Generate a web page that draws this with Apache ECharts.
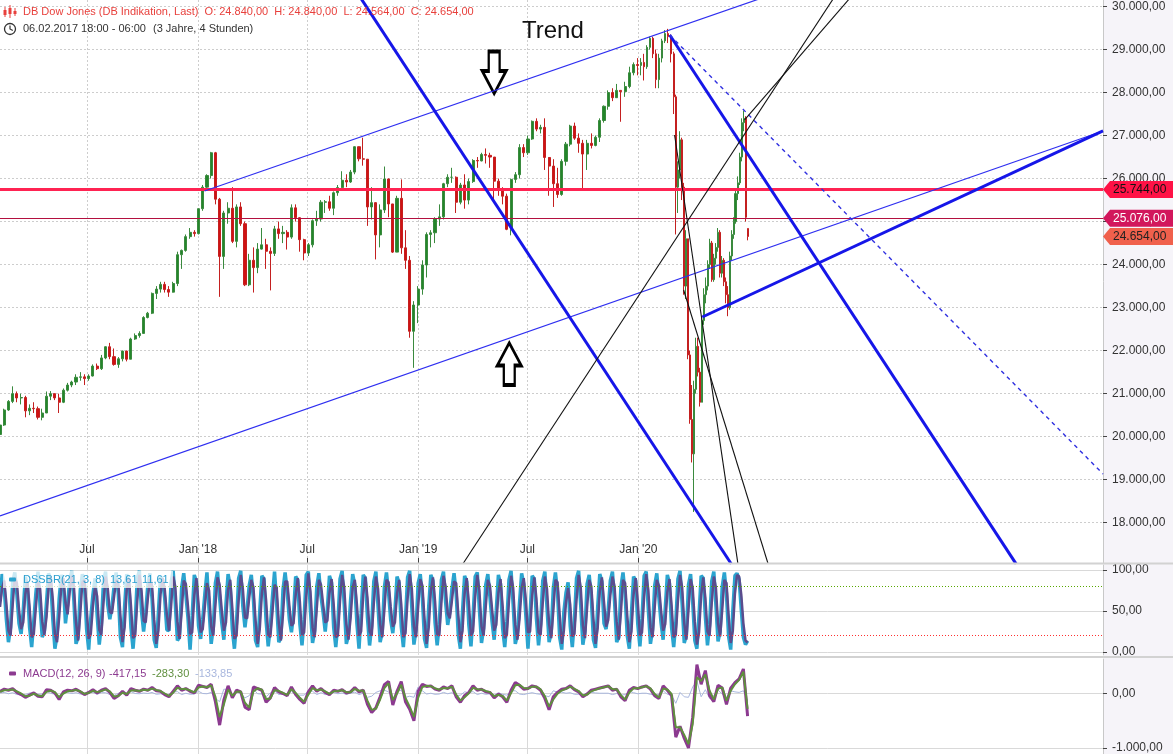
<!DOCTYPE html>
<html><head><meta charset="utf-8">
<script src="https://cdn.jsdelivr.net/npm/echarts@6/dist/echarts.min.js"></script>
<style>html,body{margin:0;padding:0;background:#fff}#c{width:1173px;height:754px}</style>
</head><body><div id="c"></div>
<script>
const DAY = 86400000;
const T = s => { const p = s.split('-').map(Number); return Date.UTC(p[0], p[1] - 1, p[2]); };
const FONT = '"Liberation Sans", Arial, sans-serif';

// ---------- axis ticks ----------
const xMinDate = '2017-02-07';
const xMaxDate = '2022-02-09';
const xTickDates = ['2017-07-01', '2018-01-01', '2018-07-01', '2019-01-01', '2019-07-01', '2020-01-01'];
const xTickLabels = ['Jul', "Jan '18", 'Jul', "Jan '19", 'Jul', "Jan '20"];
const priceTicks = [18000, 19000, 20000, 21000, 22000, 23000, 24000, 25000, 26000, 27000, 28000, 29000, 30000];
const dssTicks = [0, 50, 100];
const macdTicks = [-1000, 0];

// ---------- price: weekly candles [open, close, low, high] ----------
const weeklyStart = '2017-02-07';
const weeklyOHLC = [
[20050,20270,20000,20300],[20270,20620,20250,20650],[20620,20820,20600,20850],[20820,21000,20780,21170],[21000,20900,20800,21050],
[20900,20910,20750,21000],[20910,20600,20450,20950],[20600,20660,20500,20750],[20660,20650,20550,20800],[20650,20450,20400,20700],
[20450,20550,20380,20650],[20550,20940,20550,21050],[20940,21000,20850,21060],[21000,20900,20850,21000],[20900,20800,20550,21000],
[20800,21080,20780,21120],[21080,21200,21050,21250],[21200,21270,21150,21300],[21270,21380,21200,21450],[21380,21390,21300,21500],
[21390,21350,21200,21450],[21350,21410,21300,21450],[21410,21640,21400,21680],[21640,21580,21550,21700],[21580,21830,21550,21900],
[21830,22090,21800,22100],[22090,21860,21800,22180],[21860,21680,21650,22050],[21680,21810,21600,21850],[21810,21990,21750,22000],
[21990,21800,21750,22000],[21800,22270,21800,22300],[22270,22350,22250,22400],[22350,22400,22300,22450],[22400,22770,22400,22800],
[22770,22870,22750,22900],[22870,23330,22850,23350],[23330,23430,23200,23500],[23430,23540,23350,23600],[23540,23420,23350,23600],
[23420,23360,23250,23500],[23360,23560,23350,23600],[23560,24230,23500,24300],[24230,24330,23900,24350],[24330,24650,24300,24700],
[24650,24750,24600,24850],[24750,24720,24650,24800],[24720,25300,24700,25300],[25300,25800,25250,25850],[25800,26070,25750,26100],
[26070,26600,26000,26620],[26600,25520,25400,26620],[25520,24190,23250,25550],[24190,25200,23900,25250],[25200,25310,24950,25450],
[25310,24540,24500,25800],[24540,25340,24400,25400],[25340,24950,24900,25450],[24950,23530,23500,25000],[23530,24100,23500,24250],
[24100,23930,23350,24400],[23930,24360,23800,24500],[24360,24460,24350,24850],[24460,24310,23900,24600],[24310,24260,23400,24400],
[24260,24830,24200,24900],[24830,24720,24600,25000],[24720,24750,24500,24900],[24750,24640,24350,24800],[24640,25320,24600,25400],
[25320,25090,25000,25400],[25090,24580,24300,25100],[24580,24270,24100,24600],[24270,24460,24200,24500],[24460,25020,24400,25050],
[25020,25060,24900,25250],[25060,25450,25000,25500],[25450,25460,25200,25500],[25460,25310,25250,25600],[25310,25670,25150,25700],
[25670,25790,25600,25850],[25790,25960,25750,26170],[25960,25920,25800,26100],[25920,26150,25900,26200],[26150,26740,26100,26750],
[26740,26460,26400,26700],[26460,26450,26300,26950],[26450,25340,24900,26450],[25340,25440,25050,25800],[25440,24690,24120,25300],
[24690,25270,24400,25400],[25270,25990,25200,26280],[25990,25410,25100,26000],[25410,24290,24270,25400],[24290,25540,24300,25600],
[25540,24390,24250,25980],[24390,24100,23900,24800],[24100,22450,22300,24200],[22450,23060,21600,23150],[23060,23430,22640,23500],
[23430,23990,23300,24100],[23990,24700,23700,24750],[24700,24740,24400,24800],[24740,25060,24500,25100],[25060,25110,24900,25400],
[25110,25880,25050,25900],[25880,26030,25800,26100],[26030,26030,25900,26250],[26030,25450,25200,26050],[25450,25850,25400,25900],
[25850,25500,25300,26100],[25500,25930,25400,26000],[25930,26420,25900,26450],[26420,26410,26250,26500],[26410,26560,26400,26600],
[26560,26540,26350,26700],[26540,26500,26250,26600],[26500,25940,25500,26500],[25940,25760,25600,26000],[25760,25590,25400,25800],
[25590,24820,24800,25650],[24820,25980,24680,26000],[25980,26090,25900,26150],[26090,26720,26000,26800],[26720,26600,26500,26800],
[26600,26920,26550,27000],[26920,27330,26900,27350],[27330,27150,27100,27400],[27150,27190,27050,27250],[27190,26490,26200,27400],
[26490,26290,25600,26500],[26290,25880,25340,26450],[25880,25630,25550,26250],[25630,26400,25600,26450],[26400,26800,26300,26850],
[26800,27220,26750,27250],[27220,26940,26900,27300],[26940,26820,26600,27050],[26820,26570,25740,26900],[26570,26820,26200,26900],
[26820,26770,26700,27050],[26770,26960,26750,27000],[26960,27350,26850,27400],[27350,27680,27300,27700],[27680,28000,27600,28050],
[28000,27880,27800,28100],[27880,28050,27900,28200],[28050,28020,27320,28050],[28020,28140,27900,28250],[28140,28460,28100,28600],
[28460,28650,28400,28700],[28650,28630,28400,28800]
];

// ---------- price 2020 (denser) ----------
const dates2020 = ['2020-01-05','2020-01-10','2020-01-15','2020-01-20','2020-01-25','2020-01-30','2020-02-04','2020-02-09','2020-02-14','2020-02-19','2020-02-24','2020-02-29',
'2020-03-03','2020-03-06','2020-03-10','2020-03-13','2020-03-16','2020-03-20','2020-03-23','2020-03-26','2020-03-30',
'2020-04-02','2020-04-05','2020-04-09','2020-04-12','2020-04-15','2020-04-18','2020-04-22','2020-04-25','2020-04-28',
'2020-05-02','2020-05-05','2020-05-08','2020-05-12','2020-05-15','2020-05-18','2020-05-22','2020-05-25','2020-05-28',
'2020-06-01','2020-06-04','2020-06-07','2020-06-10','2020-06-14','2020-06-17','2020-06-20','2020-06-24','2020-06-27','2020-06-30'];
const ohlc2020 = [
[28630,28700,28400,28800],[28700,28600,28280,28900],[28600,29050,28550,29100],[29050,29260,29000,29300],[29260,28900,28800,29300],
[28900,28300,28100,29000],[28300,28800,28100,28900],[28800,29200,28700,29250],[29200,29370,29150,29450],[29370,29300,29150,29480],
[29300,28900,28700,29350],[28900,27900,27500,28950],[27900,25800,24700,27950],[25800,26200,25200,26400],[26200,26900,26000,27100],
[26900,25800,25500,26950],[25800,23500,23300,25900],[23500,24600,23200,24800],[24600,21900,21800,24600],[21900,20400,20300,22000],
[20400,19600,19400,21200],[19600,21100,18250,21300],[21100,22100,21000,22300],[22100,21500,21400,22300],[21500,20800,20700,21600],
[20800,22700,20800,22800],[22700,23300,22600,23450],[23300,23500,23100,23700],[23500,24000,23400,24100],[24000,24500,23900,24600],
[24500,23650,23600,24550],[23650,24150,23600,24250],[24150,24400,24000,24500],[24400,24750,24300,24850],[24750,23800,23700,24800],
[23800,24100,23700,24200],[24100,23600,23500,24150],[23600,23300,23100,23700],[23300,23000,22800,23500],[23000,24200,22950,24300],
[24200,24700,24100,24800],[24700,25000,24600,25100],[25000,25650,24950,25750],[25650,25900,25500,26050],[25900,26500,25850,26600],
[26500,27300,26400,27400],[27300,27400,27100,27580],[27400,25100,25000,27450],[24840,24654,24564,24840]
];

// ---------- horizontal levels ----------
const levelRed = 25744;
const levelDark = 25076;
const lastPrice = 24654;

// ---------- drawn trend lines [date, value] ----------
const upperChannel = [['2018-01-12', 25711], ['2020-09-24', 30500]];
const lowerChannel = [['2017-02-07', 18157], ['2022-02-09', 27106]];
const thickRising = [['2020-04-16', 22782], ['2022-02-09', 27106]];
const thickFallLeft = [['2018-09-18', 30407], ['2020-06-03', 17040]];
const thickFallRight = [['2020-02-22', 29337], ['2021-09-18', 17041]];
const dashedFall = [['2020-02-22', 29337], ['2022-02-09', 19133]];
const blackRise1 = [['2019-03-16', 17041], ['2020-11-23', 30267]];
const blackRise2 = [['2020-06-25', 27362], ['2020-12-21', 30267]];
const blackFall1 = [['2020-03-01', 27013], ['2020-06-14', 17041]];
const blackFall2 = [['2020-03-16', 23410], ['2020-08-03', 17041]];
const arrowDownAt = ['2019-05-07', 28466];
const arrowUpAt = ['2019-06-01', 21690];

// ---------- DSSBR (every 3.5 days) ----------
const dssStart = '2017-02-07';
const dssK = [
62,95,78,40,12,30,85,97,70,35, 22,50,92,80,30,6,38,72,98,55,
18,25,60,96,88,40,4,20,64,94, 85,35,58,88,99,62,10,18,75,95,
82,28,3,42,70,90,45,9,33,86, 98,58,40,55,80,97,72,18,6,55,
95,84,30,4,35,90,99,50,25,48, 82,96,65,15,5,48,92,88,65,27,
26,85,99,60,14,18,78,96,70,42, 3,44,94,86,32,16,40,71,97,52,
10,30,84,98,66,36,15,58,95,80, 28,4,36,90,99,55,30,52,81,94,
64,14,6,50,93,89,38,7,30,67, 98,60,12,17,76,97,74,40,24,46,
92,88,34,8,40,94,98,50,11,26, 80,96,68,48,25,52,93,85,30,6,
35,89,99,58,10,20,63,95,82,35, 4,47,94,90,42,8,32,86,98,56,
12,24,79,97,72,39,23,50,92,84, 31,6,40,91,99,54,9,27,84,95,
66,16,5,55,94,87,36,8,33,88, 98,61,33,49,77,96,71,21,4,49,
93,86,33,7,43,92,97,52,11,29, 82,95,67,37,15,51,94,83,29,6,
37,88,99,57,10,21,60,96,83,44, 4,46,93,89,41,8,34,87,98,55,
12,23,78,97,73,18,3,49,72,85, 32,6,39,90,99,56,9,26,83,94,
65,15,5,54,95,86,35,28,51,87, 98,62,12,18,79,97,70,20,4,47,
92,87,34,7,41,93,98,51,10,27, 81,96,66,36,15,53,94,84,30,6,
36,89,99,59,11,20,82,95,61,14, 4,45,93,90,43,8,33,86,98,57, 13,25,80,97,71,19,3,50,93,96, 88,52,18,9,13.61
];
const dssD = [
55,78,87,60,26,20,57,91,84,52, 28,36,71,86,55,18,22,55,85,77,
37,21,42,78,92,64,22,12,42,79, 90,60,46,73,93,80,36,14,46,85,
88,55,16,22,56,80,68,27,21,60, 92,78,49,47,67,88,85,45,12,30,
75,90,57,17,20,62,94,75,38,36, 65,89,81,40,10,26,70,90,77,46,
26,55,92,80,37,16,48,87,83,56, 22,24,69,90,59,24,28,55,84,75,
31,20,57,91,82,51,26,36,76,88, 54,16,20,63,94,77,42,41,66,88,
79,39,10,28,71,91,63,22,18,48, 82,79,36,14,46,86,86,57,32,35,
69,90,61,21,24,67,96,74,30,18, 53,88,82,58,36,38,72,89,58,18,
20,62,94,79,34,15,41,79,88,58, 20,25,70,92,66,25,20,59,92,77,
34,18,51,88,85,55,31,36,71,88, 58,18,23,65,95,77,31,18,55,89,
81,41,10,30,74,91,62,22,20,60, 93,80,47,41,63,86,84,46,12,26,
71,90,60,20,25,67,94,75,31,20, 55,88,81,52,26,33,72,89,56,17,
21,62,93,78,33,15,40,78,90,63, 24,25,69,91,65,24,21,60,92,77,
34,17,50,88,85,46,10,26,60,78, 58,19,22,64,94,78,32,17,54,88,
80,40,10,29,74,91,61,31,39,69, 92,80,37,15,48,88,84,45,12,25,
70,90,61,20,24,67,95,75,30,18, 54,88,81,51,26,34,73,89,57,18,
21,62,94,79,35,15,51,89,78,37, 9,24,69,91,66,25,20,59,92,78, 35,19,52,88,84,45,11,26,71,94, 92,70,35,14,11.61
];

// ---------- MACD (weekly) ----------
const macdStart = '2017-02-07';
const macdLine = [
40,80,60,90,20,-20,-70,-30,10,-50, -60,70,60,10,-110,30,60,50,80,30, -20,20,70,10,60,90,20,-90,-40,40, -30,90,60,40,80,60,110,50,40,-20,
-60,40,140,60,90,40,10,150,130,110, 170,-150,-580,-120,140,-80,60,30,-250,-300, 120,90,60,-160,-80,110,30,0,-40,120, -20,-110,-180,30,140,40,90,20,-20,60,
40,70,10,30,110,30,60,-200,-350,-260, -60,160,220,-210,40,220,-150,-290,-500,40, 170,130,140,80,60,120,90,140,-60,-160, -40,20,140,60,80,30,20,-80,-10,-60,
-160,60,200,150,80,90,140,120,60,-90, -300,-60,20,80,90,140,70,30,-60,-10, 60,80,100,120,140,60,80,-60,-130,60, 110,90,120,140,80,-40,-90,140,60,-40,
-800,-600,-820,-1000,-440,530,170,420,-40,-150, 150,100,-200,100,200,270,450,-417.15
];
const macdSignal = [
30,60,65,75,40,0,-50,-40,-5,-35, -50,30,55,25,-70,0,40,50,65,40, -5,10,50,25,45,75,40,-55,-45,15, -10,55,60,45,70,60,90,65,45,0,
-45,15,105,80,85,55,20,110,130,115, 150,-60,-430,-200,70,-40,30,35,-170,-260, 40,95,70,-100,-90,60,50,10,-25,80, 10,-80,-150,-20,100,60,75,40,-5,40,
45,60,25,25,85,50,55,-130,-300,-280, -110,100,190,-120,0,160,-80,-240,-430,-80, 120,140,135,95,70,100,95,125,-20,-130, -70,5,105,80,75,45,25,-50,-25,-45,
-130,10,150,160,100,90,125,125,75,-50, -240,-110,-5,55,85,125,85,45,-35,-20, 40,70,95,115,135,80,80,-30,-110,20, 95,95,115,135,95,-10,-75,90,75,-10,
-620,-620,-760,-930,-560,300,230,350,50,-110, 90,110,-130,50,170,250,400,-283.30
];
const macdHist = [
10,20,-5,15,-20,-20,-20,10,15,-15, -10,40,5,-15,-40,30,20,0,15,-10, -15,10,20,-15,15,15,-20,-35,5,25, -20,35,0,-5,10,0,20,-15,-5,-20,
-15,25,35,-20,5,-15,-10,40,0,-5, 20,-90,-150,80,70,-40,30,-5,-80,-40, 80,-5,-10,-60,10,50,-20,-10,-15,40, -30,-30,-30,50,40,-20,15,-20,-15,20,
-5,10,-15,5,25,-20,5,-70,-50,20, 50,60,30,-90,40,60,-70,-50,-70,120, 50,-10,5,-15,-10,20,-5,15,-40,-30, 30,15,35,-20,5,-15,-5,-30,15,-15,
-30,50,50,-10,-20,0,15,-5,-15,-40, -60,50,25,25,5,15,-15,-15,-25,10, 20,10,5,5,5,-20,0,-30,-20,40, 15,-5,5,5,-15,-30,-15,50,-15,-30,
-180,20,-60,-70,120,230,-60,70,-90,-40, 60,-10,-70,50,30,20,50,-133.85
];

// ---------- helpers ----------
function fmtDE(v) {
  const neg = v < 0; const a = Math.abs(v);
  const parts = a.toFixed(2).split('.');
  const ip = parts[0].replace(/\B(?=(\d{3})+(?!\d))/g, '.');
  return (neg ? '-' : '') + ip + ',' + parts[1];
}
const XMIN = T(xMinDate), XMAX = T(xMaxDate);
const xTickVals = xTickDates.map(T);
const weeklyData = weeklyOHLC.map((r, i) => [T(weeklyStart) + i * 7 * DAY, r[0], r[1], r[2], r[3]]);
const data2020 = dates2020.map((d, i) => [T(d), ...ohlc2020[i]]);
const kData = dssK.map((v, i) => [T(dssStart) + i * 3.5 * DAY, v]);
const dData = dssD.map((v, i) => [T(dssStart) + i * 3.5 * DAY, v]);
const mLine = macdLine.map((v, i) => [T(macdStart) + i * 7 * DAY, v]);
const mSig = macdSignal.map((v, i) => [T(macdStart) + i * 7 * DAY, v]);
const mHist = macdHist.map((v, i) => [T(macdStart) + i * 7 * DAY, v]);
const pts = arr => arr.map(p => [T(p[0]), p[1]]);

const candleStyle = { color: '#23862a', color0: '#d01212', borderColor: '#3a8a3e', borderColor0: '#c42020', borderWidth: 1 };

function trend(arr, color, width, type, z) {
  return { type: 'line', xAxisIndex: 0, yAxisIndex: 0, data: pts(arr), symbol: 'none', silent: true, clip: true,
    lineStyle: { color, width, type: type || 'solid' }, z: z || 5, animation: false };
}

const gridLine = { color: '#cdcdcd', type: [2, 2], width: 1 };
const solidGrid = { color: '#d9d9d9', type: 'solid', width: 1 };

function lowerX(idx) {
  return { type: 'value', gridIndex: idx, min: XMIN, max: XMAX, scale: true,
    axisLine: { show: false }, axisTick: { show: false, customValues: xTickVals },
    axisLabel: { show: false, customValues: xTickVals }, splitLine: { show: true, lineStyle: solidGrid } };
}
function rightY(idx, min, max, ticks, split) {
  return { type: 'value', gridIndex: idx, position: 'right', min, max,
    axisLine: { show: true, lineStyle: { color: '#c8c8c8' } },
    axisTick: { show: true, length: 4, lineStyle: { color: '#444' }, customValues: ticks },
    axisLabel: { color: '#333', fontSize: 12, fontFamily: FONT, margin: 9, customValues: ticks, formatter: fmtDE },
    splitLine: { show: true, lineStyle: split } };
}

const option = {
  animation: false,
  backgroundColor: '#ffffff',
  textStyle: { fontFamily: FONT },
  grid: [
    { left: 0, top: 0, width: 1103, height: 563 },
    { left: 0, top: 565, width: 1103, height: 90 },
    { left: 0, top: 659, width: 1103, height: 95 }
  ],
  xAxis: [
    { type: 'value', gridIndex: 0, min: XMIN, max: XMAX, scale: true,
      axisLine: { show: true, lineStyle: { color: '#cfcfcf' } },
      axisTick: { show: true, inside: true, length: 5, lineStyle: { color: '#444' }, customValues: xTickVals },
      axisLabel: { show: true, inside: true, margin: 7, color: '#333', fontSize: 12, fontFamily: FONT, customValues: xTickVals,
        formatter: v => { const k = xTickVals.indexOf(v); return k >= 0 ? xTickLabels[k] : ''; } },
      splitLine: { show: true, lineStyle: gridLine } },
    lowerX(1), lowerX(2)
  ],
  yAxis: [
    rightY(0, 17063, 30151, priceTicks, gridLine),
    rightY(1, -3.66, 106.1, dssTicks, solidGrid),
    rightY(2, -1110, 633, macdTicks, solidGrid)
  ],
  series: [
    { type: 'candlestick', xAxisIndex: 0, yAxisIndex: 0, data: weeklyData, encode: { x: 0, y: [1, 2, 3, 4] },
      barWidth: 2.6, itemStyle: candleStyle, z: 2, silent: true },
    { type: 'candlestick', xAxisIndex: 0, yAxisIndex: 0, data: data2020, encode: { x: 0, y: [1, 2, 3, 4] },
      barWidth: 1.6, itemStyle: candleStyle, z: 2, silent: true },
    Object.assign(trend(upperChannel, '#2f2ff0', 1.2), {
      markLine: { silent: true, symbol: 'none', animation: false, label: { show: false },
        data: [ { yAxis: levelRed, lineStyle: { color: '#ff2352', width: 3, type: 'solid' } },
                { yAxis: levelDark, lineStyle: { color: '#b3103f', width: 1.2, type: 'solid' } } ] },
      markPoint: { silent: true, animation: false, label: { show: false },
        data: [
          { coord: [T(arrowDownAt[0]), arrowDownAt[1]], symbol: 'path://M7,0 L17,0 L17,19 L23,19 L12,41 L1,19 L7,19 Z',
            symbolSize: [24, 42], itemStyle: { color: '#ffffff', borderColor: '#000', borderWidth: 3 } },
          { coord: [T(arrowUpAt[0]), arrowUpAt[1]], symbol: 'path://M12,0 L23,22 L17,22 L17,41 L7,41 L7,22 L1,22 Z',
            symbolSize: [24, 42], itemStyle: { color: '#ffffff', borderColor: '#000', borderWidth: 3 } }
        ] } }),
    trend(lowerChannel, '#2f2ff0', 1.2),
    trend(thickRising, '#1616e8', 3),
    trend(thickFallLeft, '#1616e8', 3),
    trend(thickFallRight, '#1616e8', 3),
    trend(dashedFall, '#3030e0', 1.4, [4, 4]),
    trend(blackRise1, '#111', 1.1),
    trend(blackRise2, '#111', 1.1),
    trend(blackFall1, '#111', 1.1),
    trend(blackFall2, '#111', 1.1),
    { type: 'line', xAxisIndex: 1, yAxisIndex: 1, data: kData, symbol: 'none', silent: true,
      lineStyle: { color: '#2ba4cf', width: 3.5 }, z: 3,
      markLine: { silent: true, symbol: 'none', animation: false, label: { show: false },
        data: [ { yAxis: 80, lineStyle: { color: '#58a800', type: [1, 2], width: 1 } },
                { yAxis: 20, lineStyle: { color: '#ff3030', type: [1, 2], width: 1 } } ] } },
    { type: 'line', xAxisIndex: 1, yAxisIndex: 1, data: dData, symbol: 'none', silent: true,
      lineStyle: { color: '#5b4c8d', width: 2.5 }, z: 4 },
    { type: 'line', xAxisIndex: 2, yAxisIndex: 2, data: mHist, symbol: 'none', silent: true,
      lineStyle: { color: '#a9b7de', width: 1 }, z: 2 },
    { type: 'line', xAxisIndex: 2, yAxisIndex: 2, data: mLine, symbol: 'none', silent: true,
      lineStyle: { color: '#8c3a90', width: 3 }, z: 3 },
    { type: 'line', xAxisIndex: 2, yAxisIndex: 2, data: mSig, symbol: 'none', silent: true,
      lineStyle: { color: '#5f8f3e', width: 2 }, z: 4 }
  ]
};

const chart = echarts.init(document.getElementById('c'), null, { renderer: 'canvas' });
chart.setOption(option);

// ---------- annotations / text ----------
const g = [];
g.push({ type: 'rect', shape: { x: 1104, y: 0, width: 69, height: 754 }, style: { fill: '#f6f4f9' }, z: -10, silent: true });
g.push({ type: 'rect', shape: { x: 0, y: 562.5, width: 1173, height: 2 }, style: { fill: '#d2d2d2' }, z: 50, silent: true });
g.push({ type: 'rect', shape: { x: 0, y: 656, width: 1173, height: 2 }, style: { fill: '#d2d2d2' }, z: 50, silent: true });

// title icon (small candlestick glyph)
[[5, 7, 17, 10, 5], [10, 5, 18, 8, 6], [15, 8, 16, 11, 3]].forEach(c => {
  g.push({ type: 'line', shape: { x1: c[0], y1: c[1], x2: c[0], y2: c[2] }, style: { stroke: '#e8403c', lineWidth: 1 }, z: 100 });
  g.push({ type: 'rect', shape: { x: c[0] - 1.5, y: c[3], width: 3, height: c[4] }, style: { fill: '#e8403c' }, z: 101 });
});
g.push({ type: 'text', x: 23, y: 12, style: { text: 'DB Dow Jones (DB Indikation, Last)  O: 24.840,00  H: 24.840,00  L: 24.564,00  C: 24.654,00',
  fill: '#e8403c', font: '11px ' + FONT, verticalAlign: 'middle' }, z: 100 });
g.push({ type: 'circle', shape: { cx: 10, cy: 29, r: 5.5 }, style: { fill: 'none', stroke: '#333', lineWidth: 1.3 }, z: 100 });
g.push({ type: 'polyline', shape: { points: [[10, 25.5], [10, 29], [12.8, 30.5]] }, style: { stroke: '#333', lineWidth: 1.2, fill: 'none' }, z: 100 });
g.push({ type: 'text', x: 23, y: 29, style: { text: '06.02.2017 18:00 - 06:00', fill: '#333', font: '11px ' + FONT, verticalAlign: 'middle' }, z: 100 });
g.push({ type: 'text', x: 153, y: 29, style: { text: '(3 Jahre, 4 Stunden)', fill: '#333', font: '11px ' + FONT, verticalAlign: 'middle' }, z: 100 });
g.push({ type: 'text', x: 522, y: 31, style: { text: 'Trend', fill: '#111', font: '24px ' + FONT, verticalAlign: 'middle' }, z: 100 });

g.push({ type: 'rect', shape: { x: 3, y: 571, width: 170, height: 17 }, style: { fill: 'rgba(255,255,255,0.75)' }, z: 90 });
g.push({ type: 'rect', shape: { x: 9, y: 577.5, width: 7, height: 4, r: 1 }, style: { fill: '#2ba4cf' }, z: 100 });
g.push({ type: 'text', x: 23, y: 579.5, style: { text: 'DSSBR(21, 3, 8)', fill: '#2a9fd0', font: '11px ' + FONT, verticalAlign: 'middle' }, z: 100 });
g.push({ type: 'text', x: 110, y: 579.5, style: { text: '13,61', fill: '#2a9fd0', font: '11px ' + FONT, verticalAlign: 'middle' }, z: 100 });
g.push({ type: 'text', x: 142, y: 579.5, style: { text: '11,61', fill: '#2a9fd0', font: '11px ' + FONT, verticalAlign: 'middle' }, z: 100 });
g.push({ type: 'rect', shape: { x: 9, y: 671.5, width: 7, height: 4, r: 1 }, style: { fill: '#8c3a90' }, z: 100 });
g.push({ type: 'text', x: 23, y: 673.5, style: { text: 'MACD(12, 26, 9)', fill: '#8c3a90', font: '11px ' + FONT, verticalAlign: 'middle' }, z: 100 });
g.push({ type: 'text', x: 109, y: 673.5, style: { text: '-417,15', fill: '#8c3a90', font: '11px ' + FONT, verticalAlign: 'middle' }, z: 100 });
g.push({ type: 'text', x: 152, y: 673.5, style: { text: '-283,30', fill: '#5f8f3e', font: '11px ' + FONT, verticalAlign: 'middle' }, z: 100 });
g.push({ type: 'text', x: 195, y: 673.5, style: { text: '-133,85', fill: '#a9b7de', font: '11px ' + FONT, verticalAlign: 'middle' }, z: 100 });

function tag(val, fill, txt) {
  const y = chart.convertToPixel({ yAxisIndex: 0 }, val);
  g.push({ type: 'polygon', shape: { points: [[1103, y], [1110, y - 8.5], [1173, y - 8.5], [1173, y + 8.5], [1110, y + 8.5]] },
    style: { fill }, z: 110 });
  g.push({ type: 'text', x: 1113, y: y, style: { text: fmtDE(val), fill: txt, font: '12px ' + FONT, verticalAlign: 'middle' }, z: 111 });
}
tag(levelRed, '#ff1246', '#111');
tag(levelDark, '#d2175c', '#fff');
tag(lastPrice, '#f0604c', '#222');

chart.setOption({ graphic: g });
</script>
</body></html>
